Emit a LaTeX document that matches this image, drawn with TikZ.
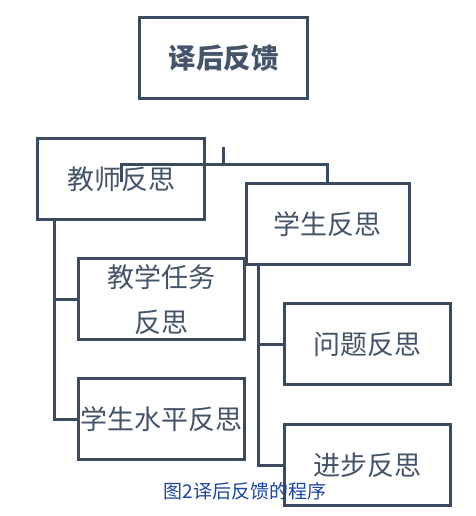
\documentclass[tikz,border=0pt]{standalone}
\usepackage{fontspec}
\usepackage{xcolor}
\usepackage{tikz}
\usetikzlibrary{positioning}
\newfontfamily\cjk{Noto Sans CJK SC}
\definecolor{boxline}{HTML}{3A4A5F}
\definecolor{boxtext}{HTML}{44546A}
\definecolor{captionblue}{HTML}{1A45A0}

\tikzset{
    box/.style={draw=boxline, line width=3pt, fill=white, minimum width=166pt, minimum height=81pt,
        inner sep=0pt, text=boxtext, font=\cjk\fontsize{27}{32}\selectfont},
    link/.style={draw=boxline, line width=3pt}
}

\begin{document}
\begin{tikzpicture}[x=1pt, y=-1pt]
    \useasboundingbox (0,0) rectangle (475,516);

    % Top box
    \node[box, minimum width=168pt, font=\cjk\bfseries\fontsize{27.5}{32}\selectfont] (feedback) at (223.5,58.5) {译后反馈};

    % Teacher side
    \node[box, minimum width=167pt] (teacher) at (121,179) {教师反思};
    \node[box] (task) at (161.5,299) {\raisebox{-4pt}[\height][\depth]{\begin{tabular}{@{}c@{}}教学任务\\[13pt]反思\end{tabular}}};
    \node[box] (level) at (161.5,419) {学生水平反思};

    % Student side
    \node[box, minimum width=163pt] (student) at (327.5,224) {学生反思};
    \node[box] (question) at (367.5,344) {问题反思};
    \node[box] (progress) at (367.5,465) {进步反思};

    % Top fork
    \coordinate (stub) at (223,147);
    \coordinate (fork) at (223,164);
    \coordinate (teacherend) at (121,182);
    \draw[link] (stub) -- (fork);
    \draw[link] (teacherend) |- (fork) -| (student.north);

    % Teacher branch
    \coordinate (teacherdown) at (54,0);
    \draw[link] (teacher.south -| teacherdown) |- (level.west);
    \draw[link] (teacherdown |- task.west) -- (task.west);

    % Student branch
    \coordinate (studentdown) at (258,0);
    \draw[link] (student.south -| studentdown) |- (progress.west);
    \draw[link] (studentdown |- question.west) -- (question.west);

    % Caption
    \node[text=captionblue, font=\cjk\fontsize{19}{21}\selectfont] (caption) at (245,491) {图2译后反馈的程序};
\end{tikzpicture}
\end{document}
